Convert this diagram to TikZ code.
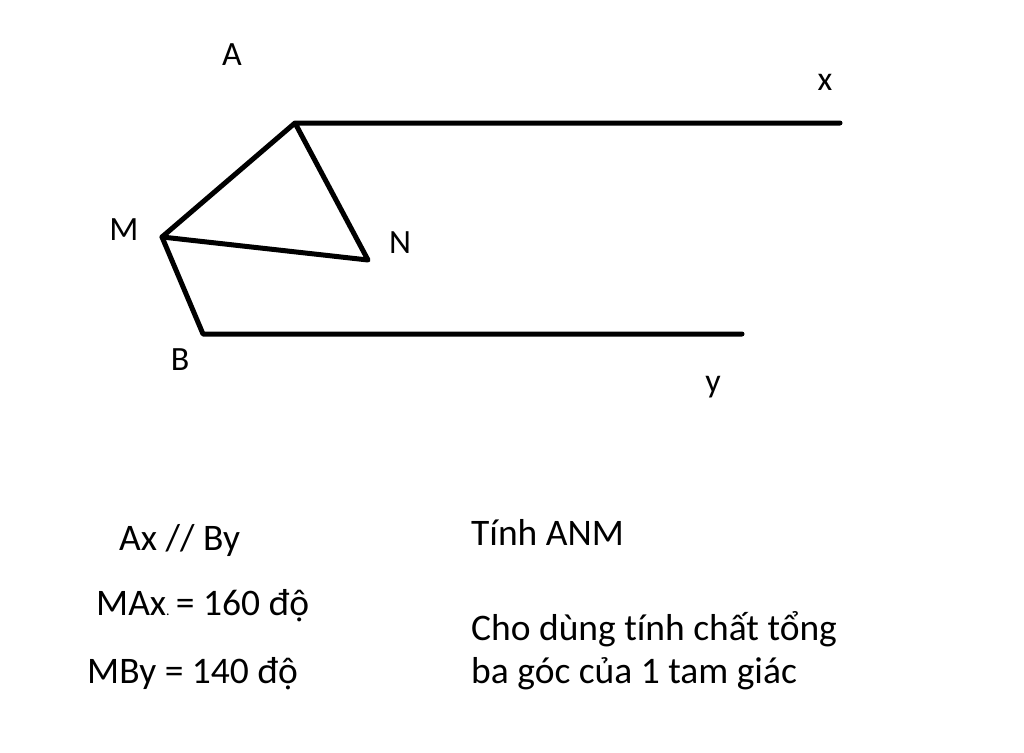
\documentclass[tikz,border=0pt]{standalone}
\usepackage{fontspec}
\setmainfont[Ligatures=NoCommon]{Carlito}
\begin{document}
\begin{tikzpicture}[x=1pt,y=-1pt,
  seg/.style={line width=5pt,line cap=round,line join=round},
  lbl/.style={anchor=base,inner sep=0pt,font=\fontsize{34}{40}\selectfont},
  txt/.style={anchor=base west,inner sep=0pt,font=\fontsize{37.5}{44}\selectfont}]
\useasboundingbox[fill=white] (0,0) rectangle (1024,752);
\coordinate (A) at (295,123);
\coordinate (X) at (840,123);
\coordinate (M) at (162,237);
\coordinate (N) at (368,260);
\coordinate (B) at (203,334);
\coordinate (Y) at (742,334);
\draw[seg] (X) -- (A) -- (M) -- (N) -- (A);
\draw[seg] (M) -- (B) -- (Y);
\node[lbl] (lA) at (232,65) {A};
\node[lbl] (lx) at (825,90) {x};
\node[lbl] (lM) at (124,240) {M};
\node[lbl] (lN) at (400,253) {N};
\node[lbl] (lB) at (180,370) {B};
\node[lbl] (ly) at (713,392) {y};
\node[txt] (t1) at (119,550) {Ax // By};
\node[txt] (t2) at (96,615) {MAx{\fontsize{14}{14}\selectfont .}\,= 160 độ};
\node[txt] (t3) at (87,683) {MBy = 140 độ};
\node[txt] (t4) at (471,545) {Tính ANM};
\node[txt] (t5) at (471,640) {Cho dùng tính chất tổng};
\node[txt] (t6) at (471,683) {ba góc của 1 tam giác};
\end{tikzpicture}
\end{document}
